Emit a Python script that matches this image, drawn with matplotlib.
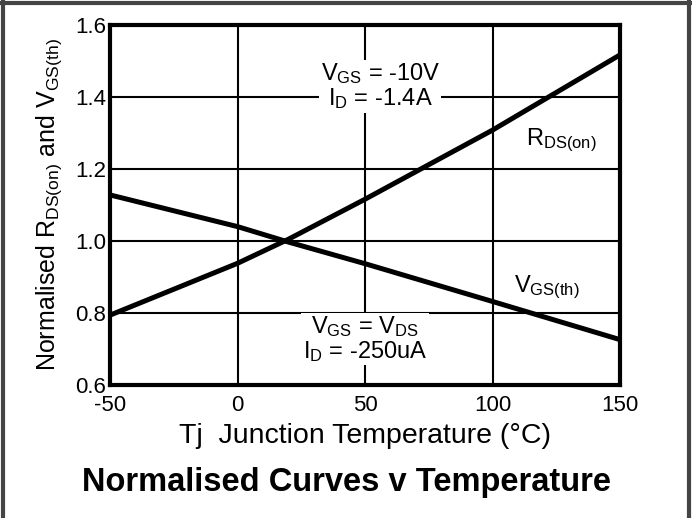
import matplotlib
matplotlib.use("Agg")
import matplotlib.pyplot as plt
from matplotlib.lines import Line2D

# junction temperature (degC)
temp = [-50, 0, 20, 50, 100, 150]
# normalised R_DS(on)
rds_on = [0.794, 0.938, 1.005, 1.116, 1.308, 1.517]
# normalised V_GS(th)
vgs_th = [1.128, 1.04, 0.997, 0.937, 0.832, 0.726]

xticks = [-50, 0, 50, 100, 150]
yticks = [0.6, 0.8, 1.0, 1.2, 1.4, 1.6]
ytick_labels = ["0.6", "0.8", "1.0", "1.2", "1.4", "1.6"]

plt.rcParams['font.family'] = ['Liberation Sans Narrow', 'Liberation Sans', 'DejaVu Sans']
plt.rcParams['mathtext.default'] = 'regular'
plt.rcParams['axes.unicode_minus'] = False

fig = plt.figure(figsize=(6.92, 5.18), dpi=100)
ax = fig.add_axes([110 / 692, 1 - 385 / 518, 510 / 692, 360 / 518])

ax.plot(temp, rds_on, color='black', lw=3.6, solid_capstyle='butt', zorder=3)
ax.plot(temp, vgs_th, color='black', lw=3.6, solid_capstyle='butt', zorder=3)

ax.set_xlim(-50, 150)
ax.set_ylim(0.6, 1.6)
ax.set_xticks(xticks)
ax.set_yticks(yticks)
ax.set_yticklabels(ytick_labels)
ax.tick_params(length=0, labelsize=16)
ax.tick_params(axis='x', pad=7)
ax.tick_params(axis='y', pad=3)
ax.grid(True, color='black', lw=1.5)
ax.set_axisbelow(True)
for s in ax.spines.values():
    s.set_linewidth(3)

ax.set_xlabel("Tj  Junction Temperature (°C)", fontsize=20.5, labelpad=5)
ax.set_ylabel("Normalised $R_{DS(on)}$ and $V_{GS(th)}$", fontsize=18, labelpad=8)

box = dict(facecolor='white', edgecolor='none', pad=1)
ax.text(56, 1.43, "$V_{GS}$ = -10V\n$I_D$ = -1.4A", fontsize=17, ha='center', va='center',
        linespacing=1.0, bbox=box, zorder=2)
ax.text(50, 0.728, "$V_{GS}$ = $V_{DS}$\n$I_D$ = -250uA", fontsize=17, ha='center', va='center',
        linespacing=1.0, bbox=box, zorder=2)
ax.text(113, 1.28, "$R_{DS(on)}$", fontsize=17, ha='left', va='center')
ax.text(108.5, 0.872, "$V_{GS(th)}$", fontsize=17, ha='left', va='center')

fig.text(0.5, 1 - 482 / 518, "Normalised Curves v Temperature", fontsize=23.5, fontweight='bold',
         ha='center', va='center')

# outer frame
for xs, ys in [([0.004, 0.004], [0, 1]), ([0, 1], [0.994, 0.994]), ([0.995, 0.995], [0, 1])]:
    fig.add_artist(Line2D(xs, ys, color='#444444', lw=3, transform=fig.transFigure))

fig.savefig("out.png", dpi=100)
